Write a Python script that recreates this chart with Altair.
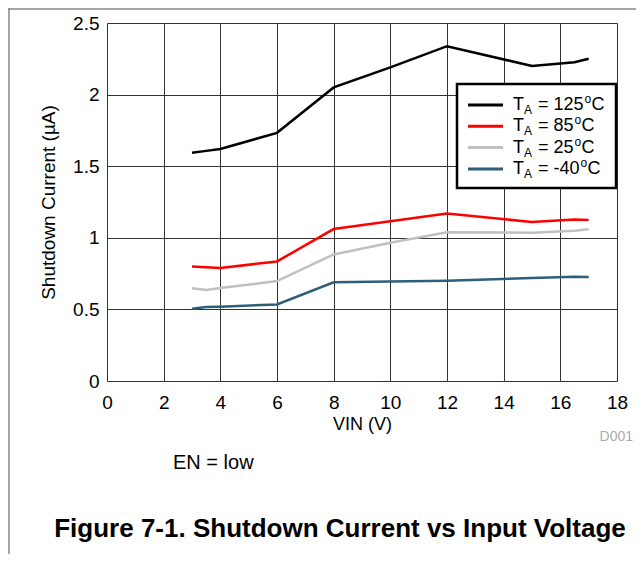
import altair as alt
import pandas as pd

# ---- data ----
vin = [3, 3.5, 4, 6, 8, 10, 12, 15, 16.5, 17]
i_125 = [1.594, 1.607, 1.62, 1.733, 2.05, 2.19, 2.338, 2.20, 2.226, 2.25]
i_85 = [0.80, 0.795, 0.789, 0.835, 1.061, 1.115, 1.170, 1.11, 1.128, 1.124]
i_25 = [0.647, 0.635, 0.649, 0.698, 0.884, 0.966, 1.038, 1.036, 1.05, 1.059]
i_m40 = [0.505, 0.516, 0.519, 0.535, 0.689, 0.694, 0.70, 0.719, 0.728, 0.726]

series_names = ["125", "85", "25", "-40"]
series_colors = ["#000000", "#ff0000", "#c0c0c0", "#2e5f78"]
x_ticks = [0, 2, 4, 6, 8, 10, 12, 14, 16, 18]
y_ticks = [0, 0.5, 1, 1.5, 2, 2.5]

FONT = "Liberation Sans, Arial, Helvetica, sans-serif"
W, H = 510, 358

rows = []
for name, vals in zip(series_names, [i_125, i_85, i_25, i_m40]):
    for xv, yv in zip(vin, vals):
        rows.append({"vin": xv, "cur": yv, "series": name})
df = pd.DataFrame(rows)

lines = alt.Chart(df).mark_line(strokeWidth=2.5).encode(
    x=alt.X("vin:Q", scale=alt.Scale(domain=[0, 18], nice=False),
            axis=alt.Axis(values=x_ticks, title="VIN (V)", grid=True, ticks=False,
                          domain=False, labelPadding=12, titlePadding=3,
                          labelFontSize=19, titleFontSize=18, labelFont=FONT,
                          titleFont=FONT, titleFontWeight="normal",
                          gridColor="#333333", gridWidth=1, labelColor="#000",
                          titleColor="#000", labelFlush=False)),
    y=alt.Y("cur:Q", scale=alt.Scale(domain=[0, 2.5], nice=False),
            axis=alt.Axis(values=y_ticks, format="~g", title="Shutdown Current (\u00b5A)",
                          grid=True, ticks=False, domain=False, labelPadding=8,
                          titlePadding=14, labelFontSize=19, titleFontSize=19,
                          labelFont=FONT, titleFont=FONT, titleFontWeight="normal",
                          gridColor="#333333", gridWidth=1, labelColor="#000",
                          titleColor="#000", labelFlush=False)),
    color=alt.Color("series:N", scale=alt.Scale(domain=series_names, range=series_colors),
                    legend=None),
)

# ---- manual legend (sub/superscripts) ----
char_w = {"=": 0.584, " ": 0.278, "-": 0.333}
def text_w(s, size):
    return sum(char_w.get(c, 0.556) for c in s) * size

lx0, ly0, dy = 361, 82, 21.3
tx = 406
leg_rows = []
for k, (name, col) in enumerate(zip(series_names, series_colors)):
    num = "= " + name
    wn = text_w(num, 18)
    leg_rows.append({"col": col, "y": ly0 + k * dy, "lx1": lx0, "lx2": lx0 + 35,
                     "tT": tx, "tA": tx + 11, "tN": tx + 25, "num": num,
                     "tO": tx + 25 + wn + 1, "tC": tx + 25 + wn + 8})
ldf = pd.DataFrame(leg_rows)

box = alt.Chart(pd.DataFrame({"a": [0]})).mark_rect(
    fill="white", stroke="black", strokeWidth=2.5
).encode(x=alt.value(350), x2=alt.value(509), y=alt.value(61), y2=alt.value(165))

leg_base = alt.Chart(ldf)
leg_lines = leg_base.mark_rule(strokeWidth=3).encode(
    x=alt.X("lx1:Q", scale=None, axis=None), x2="lx2:Q",
    y=alt.Y("y:Q", scale=None, axis=None), color=alt.Color("col:N", scale=None))

def leg_text(field, txt=None, size=18, ddy=0):
    enc = dict(x=alt.X(f"{field}:Q", scale=None, axis=None),
               y=alt.Y("y:Q", scale=None, axis=None))
    if txt is None:
        enc["text"] = alt.Text("num:N")
    else:
        enc["text"] = alt.value(txt)
    return leg_base.mark_text(align="left", baseline="middle", font=FONT,
                              fontSize=size, dy=ddy, color="black").encode(**enc)

leg_T = leg_text("tT", "T")
leg_A = leg_text("tA", "A", size=12, ddy=5)
leg_N = leg_text("tN")
leg_O = leg_text("tO", "o", size=12, ddy=-6)
leg_C = leg_text("tC", "C")

# ---- annotations ----
one = pd.DataFrame({"a": [0]})
d001 = alt.Chart(one).mark_text(align="right", baseline="middle", font=FONT,
                                fontSize=14, color="#aaaaaa").encode(
    x=alt.value(526), y=alt.value(414), text=alt.value("D001"))
en_low = alt.Chart(one).mark_text(align="left", baseline="middle", font=FONT,
                                  fontSize=20, color="black").encode(
    x=alt.value(66), y=alt.value(440), text=alt.value("EN = low"))
fig_title = alt.Chart(one).mark_text(align="center", baseline="middle", font=FONT,
                                     fontSize=26, fontWeight="bold", color="black").encode(
    x=alt.value(233), y=alt.value(506),
    text=alt.value("Figure 7-1. Shutdown Current vs Input Voltage"))

border_left = alt.Chart(one).mark_rule(color="#888888", strokeWidth=1.5).encode(
    x=alt.value(-98), y=alt.value(-15), y2=alt.value(531))
border_top = alt.Chart(one).mark_rule(color="#888888", strokeWidth=1.5).encode(
    x=alt.value(-99), x2=alt.value(529), y=alt.value(-14))

chart = alt.layer(
    lines, box, leg_lines, leg_T, leg_A, leg_N, leg_O, leg_C,
    d001, en_low, fig_title, border_left, border_top
).properties(
    width=W, height=H,
    autosize=alt.AutoSizeParams(type="none"),
    padding={"left": 99, "top": 15, "right": 19, "bottom": 173},
).configure_view(stroke="black", strokeWidth=3).configure(background="white")

chart.save("out.html", embed_options={"renderer": "svg", "actions": False})
